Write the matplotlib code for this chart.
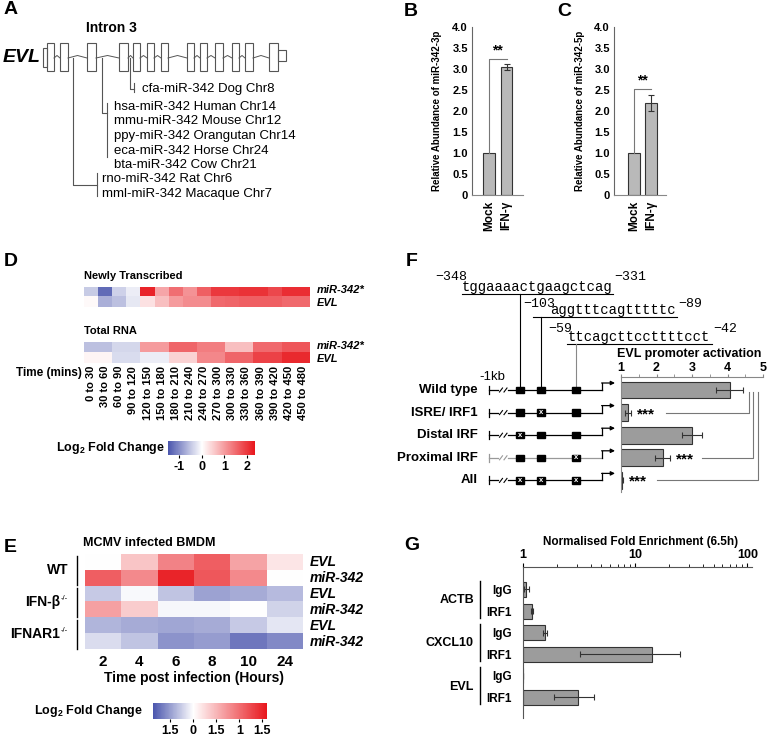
import numpy as np
import matplotlib
matplotlib.use("Agg")
import matplotlib.pyplot as plt
from matplotlib.colors import LinearSegmentedColormap, Normalize
from matplotlib.cm import ScalarMappable
from matplotlib.patches import Rectangle
from matplotlib.ticker import MultipleLocator, LogLocator, NullFormatter, FixedLocator

plt.rcParams['font.family'] = ['Liberation Sans', 'DejaVu Sans']
plt.rcParams['mathtext.fontset'] = 'custom'
plt.rcParams['mathtext.rm'] = 'Liberation Sans'
plt.rcParams['mathtext.bf'] = 'Liberation Sans:bold'

W, H = 767, 740

# ---------------- data ----------------
# A: EVL gene model (exon start/end, schematic units) and miR-342 orthologues
evl_exons = [(47, 54), (60, 68), (87, 96), (119, 128), (133, 140), (147, 154), (161, 168),
             (187, 194), (200, 207), (215, 223), (232, 239), (245, 253), (269, 278)]
cfa_label = ["cfa-miR-342 Dog Chr8"]
group1_labels = ["hsa-miR-342 Human Chr14", "mmu-miR-342 Mouse Chr12",
                 "ppy-miR-342 Orangutan Chr14", "eca-miR-342 Horse Chr24",
                 "bta-miR-342 Cow Chr21"]
group2_labels = ["rno-miR-342 Rat Chr6", "mml-miR-342 Macaque Chr7"]

# B / C: relative abundance
bc_groups = ["Mock", "IFN-γ"]
mir3p_vals = [1.0, 3.05]
mir3p_err = [0.0, 0.08]
mir5p_vals = [1.0, 2.18]
mir5p_err = [0.0, 0.19]

# D: time course heatmaps
d_times = ["0 to 30", "30 to 60", "60 to 90", "90 to 120", "120 to 150", "150 to 180",
           "180 to 210", "210 to 240", "240 to 270", "270 to 300", "300 to 330",
           "330 to 360", "360 to 390", "390 to 420", "420 to 450", "450 to 480"]
d_rows = ["miR-342*", "EVL"]
newly_mir = [-0.45, -1.3, -0.4, -0.15, 2.2, 0.9, 1.45, 1.1, 1.6, 2.0, 2.0, 2.05, 2.05, 1.85, 2.1, 2.1]
newly_evl = [0.05, -0.7, -0.55, -0.2, 0.3, 0.65, 1.0, 1.15, 1.15, 1.5, 1.55, 1.6, 1.6, 1.6, 1.5, 1.5]
total_mir = [-0.55, -0.55, -0.35, -0.35, 1.0, 1.0, 1.55, 1.55, 1.3, 1.3, 0.65, 0.65, 1.5, 1.5, 1.7, 1.7]
total_evl = [0.1, 0.1, -0.3, -0.3, -0.15, -0.15, 0.45, 0.45, 1.2, 1.2, 1.55, 1.55, 1.9, 1.9, 2.15, 2.15]

# E: MCMV infected BMDM
e_hours = ["2", "4", "6", "8", "10", "24"]
e_strains = ["WT", "IFN-β", "IFNAR1"]
e_genes = ["EVL", "miR-342", "EVL", "miR-342", "EVL", "miR-342"]
wt_evl = [0.0, 0.8, 1.7, 2.2, 1.25, 0.35]
wt_mir = [2.2, 1.6, 3.0, 2.3, 1.6, 0.0]
ifnb_evl = [-0.55, -0.05, -0.6, -0.95, -0.85, -0.7]
ifnb_mir = [1.3, 0.7, -0.08, -0.08, 0.0, -0.45]
ifnar_evl = [-0.75, -0.85, -0.9, -0.85, -0.55, -0.25]
ifnar_mir = [-0.35, -0.6, -1.1, -1.0, -1.4, -1.2]
e_cbar_ticks = [-1, 0, 1, 2, 3]
e_cbar_labels = ["1.5", "0", "1.5", "1", "1.5"]

# F: promoter constructs
f_constructs = ["Wild type", "ISRE/ IRF1", "Distal IRF", "Proximal IRF", "All"]
f_activation = [4.06, 1.2, 3.0, 2.17, 1.02]
f_err = [0.39, 0.08, 0.29, 0.21, 0.03]
f_mutated = [[], [1], [0], [2], [0, 1, 2]]
f_signif = ["", "***", "", "***", "***"]
f_seqs = [("-348", "tggaaaactgaagctcag", "-331"),
          ("-103", "aggtttcagtttttc", "-89"),
          ("-59", "ttcagcttccttttcct", "-42")]

# G: ChIP
g_genes = ["ACTB", "CXCL10", "EVL"]
g_abs = ["IgG", "IRF1", "IgG", "IRF1", "IgG", "IRF1"]
g_vals = [1.07, 1.2, 1.57, 14.2, 1.01, 3.1]
g_err = [0.05, 0.02, 0.05, 11.0, 0.0, 1.2]

# ---------------- figure ----------------
fig = plt.figure(figsize=(W / 100, H / 100), dpi=100)


def px_axes(x0, y0, x1, y1):
    return fig.add_axes([x0 / W, 1 - y1 / H, (x1 - x0) / W, (y1 - y0) / H])


def make_cmap(vmin, vmax):
    f = -vmin / (vmax - vmin)
    return LinearSegmentedColormap.from_list(
        "bw_r", [(0, "#4a55ad"), (f, "white"), (1, "#e8161c")])


def bold_ticks(labels):
    for t in labels:
        t.set_fontweight("bold")


# ---- B and C ----
def bar_panel(ax, vals, errs, xl, br_y):
    x = np.arange(len(vals))
    ax.bar(x, vals, width=0.68, color="#b9b9b9", edgecolor="#333333", linewidth=0.8)
    ax.errorbar(x[1:], vals[1:], yerr=errs[1:], fmt="none", ecolor="#333333",
                elinewidth=0.8, capsize=2.5, capthick=0.8)
    ax.set_xlim(*xl)
    ax.set_ylim(0, 4.0)
    ax.set_yticks(np.arange(0, 4.01, 0.5))
    ax.set_yticklabels(["0"] + ["%.1f" % v for v in np.arange(0.5, 4.01, 0.5)])
    ax.set_xticks(x)
    ax.set_xticklabels(bc_groups, rotation=90, fontsize=8.5, fontweight="bold")
    ax.tick_params(axis="y", labelsize=8, length=0, pad=3)
    ax.tick_params(axis="x", length=0, pad=4)
    bold_ticks(ax.get_yticklabels())
    for s in ["top", "right"]:
        ax.spines[s].set_visible(False)
    ax.spines["left"].set_color("#666666")
    ax.spines["bottom"].set_color("#888888")
    ax.plot([0, 0, 1], [vals[0], br_y, br_y], color="#777777", lw=0.8)
    ax.text(0.5, br_y + 0.03, "**", ha="center", va="bottom", fontsize=10, fontweight="bold")


axB = px_axes(472, 27, 523, 195)
bar_panel(axB, mir3p_vals, mir3p_err, (-0.97, 1.94), 3.24)
axC = px_axes(614, 27, 666, 195)
bar_panel(axC, mir5p_vals, mir5p_err, (-1.18, 1.88), 2.52)

# ---- D ----
d_vmin, d_vmax = -1.5, 2.35
d_cmap = make_cmap(d_vmin, d_vmax)
d_norm = Normalize(d_vmin, d_vmax)
axDn = px_axes(84, 287, 310, 307)
axDn.imshow(np.array([newly_mir, newly_evl]), cmap=d_cmap, norm=d_norm, aspect="auto",
            interpolation="nearest")
axDn.axis("off")
axDt = px_axes(84, 342, 310, 363)
axDt.imshow(np.array([total_mir, total_evl]), cmap=d_cmap, norm=d_norm, aspect="auto",
            interpolation="nearest")
for s in axDt.spines.values():
    s.set_visible(False)
axDt.set_yticks([])
axDt.set_xticks(np.arange(len(d_times)))
axDt.set_xticklabels(d_times, rotation=90, fontsize=8, fontweight="bold")
axDt.tick_params(axis="x", length=0, pad=2)

caxD = px_axes(168, 441, 255, 455)
cbD = fig.colorbar(ScalarMappable(norm=d_norm, cmap=d_cmap), cax=caxD, orientation="horizontal")
cbD.outline.set_visible(False)
cbD.set_ticks([-1, 0, 1, 2])
cbD.set_ticklabels(["-1", "0", "1", "2"])
caxD.tick_params(length=2, labelsize=9, pad=2)
bold_ticks(caxD.get_xticklabels())

# ---- E ----
e_vmin, e_vmax = -1.75, 3.2
e_cmap = make_cmap(e_vmin, e_vmax)
e_norm = Normalize(e_vmin, e_vmax)
axE = px_axes(85, 554, 303, 649)
axE.imshow(np.array([wt_evl, wt_mir, ifnb_evl, ifnb_mir, ifnar_evl, ifnar_mir]),
           cmap=e_cmap, norm=e_norm, aspect="auto", interpolation="nearest")
for s in axE.spines.values():
    s.set_visible(False)
axE.set_yticks([])
axE.set_xticks(np.arange(len(e_hours)))
axE.set_xticklabels(e_hours, fontsize=11, fontweight="bold")
axE.tick_params(axis="x", length=0, pad=4)
axE.set_xlabel("Time post infection (Hours)", fontsize=10, fontweight="bold", labelpad=2)

caxE = px_axes(153, 703, 267, 719)
cbE = fig.colorbar(ScalarMappable(norm=e_norm, cmap=e_cmap), cax=caxE, orientation="horizontal")
cbE.outline.set_visible(False)
cbE.set_ticks(e_cbar_ticks)
cbE.set_ticklabels(e_cbar_labels)
caxE.tick_params(length=2, labelsize=9, pad=2)
bold_ticks(caxE.get_xticklabels())

# ---- F bars ----
axF = px_axes(621, 377, 763, 492)
fy = np.arange(len(f_constructs))
axF.barh(fy, f_activation, height=0.75, color="#9c9c9c", edgecolor="#333333", linewidth=0.8)
axF.errorbar(f_activation, fy, xerr=f_err, fmt="none", ecolor="#333333", elinewidth=0.8,
             capsize=2.5, capthick=0.8)
axF.set_xlim(1, 5)
axF.set_ylim(4.53, -0.58)
axF.xaxis.tick_top()
axF.set_xticks([1, 2, 3, 4, 5])
axF.xaxis.set_minor_locator(MultipleLocator(0.5))
axF.tick_params(axis="x", which="both", labelsize=9, length=2, color="#888888", pad=0.5)
bold_ticks(axF.get_xticklabels())
axF.set_yticks([])
for s in ["bottom", "right"]:
    axF.spines[s].set_visible(False)
axF.spines["top"].set_color("#888888")
axF.spines["left"].set_color("#888888")
br_x = {1: (2.28, 4.6), 3: (3.28, 4.71), 4: (2.0, 4.86)}
for i, s in enumerate(f_signif):
    if s:
        axF.text(f_activation[i] + f_err[i] + 0.17, i + 0.08, s, ha="left", va="center",
                 fontsize=11, fontweight="bold")
        x0, x1 = br_x[i]
        axF.plot([x0, x1, x1], [i, i, 0.1], color="#777777", lw=0.8, clip_on=False)

# ---- G ----
axG = px_axes(523, 567, 752, 718)
gy = np.arange(len(g_vals))
axG.set_xscale("log")
axG.barh(gy, np.array(g_vals) - 1, left=1, height=0.7, color="#9c9c9c",
         edgecolor="#333333", linewidth=0.8)
axG.errorbar(g_vals, gy, xerr=g_err, fmt="none", ecolor="#333333", elinewidth=0.8,
             capsize=2.5, capthick=0.8)
axG.set_xlim(1, 110)
axG.set_ylim(5.95, -1.04)
axG.xaxis.tick_top()
axG.xaxis.set_major_locator(FixedLocator([1, 10, 100]))
axG.set_xticklabels(["1", "10", "100"])
axG.xaxis.set_minor_locator(LogLocator(base=10, subs=np.arange(2, 10)))
axG.xaxis.set_minor_formatter(NullFormatter())
axG.tick_params(axis="x", which="major", labelsize=9, length=3, pad=1)
axG.tick_params(axis="x", which="minor", length=2)
bold_ticks(axG.get_xticklabels())
axG.set_yticks(gy)
axG.set_yticklabels(g_abs, fontsize=8.5, fontweight="bold")
axG.tick_params(axis="y", length=0, pad=8)
for s in ["bottom", "right"]:
    axG.spines[s].set_visible(False)
axG.spines["top"].set_color("#555555")
axG.spines["left"].set_color("#555555")

# ---------------- overlay for schematics and labels ----------------
ov = fig.add_axes([0, 0, 1, 1])
ov.set_xlim(0, W)
ov.set_ylim(H, 0)
ov.axis("off")

for lab, x, y in [("A", 4, 10), ("B", 404, 12), ("C", 557, 12), ("D", 4, 262),
                  ("F", 406, 262), ("E", 4, 547), ("G", 404, 545)]:
    ov.text(x, y, lab, fontsize=14, fontweight="bold", va="center", ha="left")

# A gene model
ov.text(3, 57, "EVL", fontsize=14, fontweight="bold", style="italic", va="center")
ov.text(111, 28, "Intron 3", fontsize=10, fontweight="bold", ha="center", va="center")
gc = "#555555"
ov.add_patch(Rectangle((43, 48), 4, 19, fill=False, ec=gc, lw=0.8))
ov.add_patch(Rectangle((278, 50), 8, 11, fill=False, ec=gc, lw=0.8))
for a, b in evl_exons:
    ov.add_patch(Rectangle((a, 43), b - a, 28, fill=False, ec=gc, lw=0.8))
for (a0, a1), (b0, b1) in zip(evl_exons[:-1], evl_exons[1:]):
    m = (a1 + b0) / 2
    ov.plot([a1, m, b0], [58, 55.5, 58], color=gc, lw=0.7)

lc = "#555555"
ov.plot([130, 130, 134], [58, 89, 89], color=lc, lw=0.8)
ov.plot([134, 134], [83, 92], color=lc, lw=0.8)
ov.text(142, 89, cfa_label[0], fontsize=9.5, va="center")
ov.plot([102, 102, 107], [58, 113, 113], color=lc, lw=0.8)
ov.plot([107, 107], [103, 157], color=lc, lw=0.8)
for k, s in enumerate(group1_labels):
    ov.text(114, 107 + 14.5 * k, s, fontsize=9.5, va="center")
ov.plot([73, 73, 97], [58, 185, 185], color=lc, lw=0.8)
ov.plot([97, 97], [173, 196], color=lc, lw=0.8)
for k, s in enumerate(group2_labels):
    ov.text(102, 179 + 14.5 * k, s, fontsize=9.5, va="center")

# B/C y labels
ov.text(437, 111, "Relative Abundance of miR-342-3p", rotation=90, fontsize=7,
        fontweight="bold", ha="center", va="center")
ov.text(580, 111, "Relative Abundance of miR-342-5p", rotation=90, fontsize=7,
        fontweight="bold", ha="center", va="center")

# D labels
ov.text(84, 276, "Newly Transcribed", fontsize=8, fontweight="bold", va="center")
ov.text(84, 331, "Total RNA", fontsize=8, fontweight="bold", va="center")
for k, r in enumerate(d_rows):
    ov.text(317, 290 + 13 * k, r, fontsize=8, fontweight="bold", style="italic", va="center")
    ov.text(317, 346 + 13 * k, r, fontsize=8, fontweight="bold", style="italic", va="center")
ov.text(82, 373, "Time (mins)", fontsize=8.5, fontweight="bold", ha="right", va="center")
ov.text(165, 448, r"Log$\mathbf{_2}$ Fold Change", fontsize=9, fontweight="bold",
        ha="right", va="center")

# E labels
ov.text(83, 543, "MCMV infected BMDM", fontsize=9, fontweight="bold", va="center")
for k, s in enumerate(e_strains):
    yc = 570 + 32 * k
    if k == 0:
        ov.text(68, yc, s, fontsize=10, fontweight="bold", ha="right", va="center")
    else:
        ov.text(60, yc, s, fontsize=10, fontweight="bold", ha="right", va="center")
        ov.text(60.5, yc - 4, "-/-", fontsize=5.5, ha="left", va="center")
    ov.plot([77, 77], [yc - 14.5, yc + 14.5], color="black", lw=1)
for k, g in enumerate(e_genes):
    ov.text(310, 562 + 15.9 * k, g, fontsize=10, fontweight="bold", style="italic", va="center")
ov.text(143, 711, r"Log$\mathbf{_2}$ Fold Change", fontsize=9, fontweight="bold",
        ha="right", va="center")

# F schematic
mono = "Liberation Mono"
site_x = [520, 541, 576]
# (number x, seq text x, underline x0, underline x1, number y, seq y)
seq_pos = [(435, 462, 462, 613, 277, 287), (523, 550, 533, 677, 304, 310),
           (548, 568, 567, 712, 329, 337)]
for (lo, seq, hi), (nx, tx, ux0, ux1, ny, sy) in zip(f_seqs, seq_pos):
    ov.text(nx, ny, lo.replace("-", "\u2212"), family=mono, fontsize=9.5, va="center")
    ov.text(tx, sy, seq, family=mono, fontsize=10, va="center")
    ov.text(ux1 + 1, ny, hi.replace("-", "\u2212"), family=mono, fontsize=9.5, va="center")
    ov.plot([ux0, ux1], [sy + 7, sy + 7], color="black", lw=0.8)
ov.plot([520, 520], [294, 390], color="black", lw=0.8)
ov.plot([541, 541], [317, 390], color="black", lw=0.8)
ov.plot([576, 576], [344, 390], color="#888888", lw=0.8)
ov.text(492, 377, "-1kb", fontsize=9.5, ha="center", va="center")
for i, (name, mut) in enumerate(zip(f_constructs, f_mutated)):
    y = 390 + 22.6 * i
    col = "#999999" if name == "Proximal IRF" else "black"
    ov.text(478, y, name, ha="right", va="center", fontsize=9.5, fontweight="bold")
    ov.plot([489, 489], [y - 4, y + 4], color=col, lw=0.9)
    ov.plot([489, 498], [y, y], color=col, lw=0.9)
    for sx in (501, 505.5):
        ov.plot([sx - 1.5, sx + 1.5], [y + 2, y - 2], color=col, lw=0.8)
    ov.plot([508, 602], [y, y], color=col, lw=0.9)
    ov.plot([602, 602], [y, y - 7], color="black", lw=0.9)
    ov.annotate("", xy=(615, y - 7), xytext=(601.6, y - 7),
                arrowprops=dict(arrowstyle="-|>", lw=0.9, color="black", mutation_scale=6,
                                shrinkA=0, shrinkB=0))
    for k, sx in enumerate(site_x):
        ov.add_patch(Rectangle((sx - 4, y - 3.2), 8, 6.4, color="black", zorder=3))
        if k in mut:
            ov.text(sx, y, "x", color="white", fontsize=5.5, fontweight="bold",
                    ha="center", va="center", zorder=4)
ov.text(689, 354, "EVL promoter activation", fontsize=9, fontweight="bold",
        ha="center", va="center")

# G labels
ov.text(641, 542, "Normalised Fold Enrichment (6.5h)", fontsize=8.5, fontweight="bold",
        ha="center", va="center")
for k, g in enumerate(g_genes):
    y0 = 589.5 + 43.2 * k
    ov.text(474, y0 + 10.8, g, fontsize=9, fontweight="bold", ha="right", va="center")
    ov.plot([480, 480], [y0 - 9, y0 + 28], color="black", lw=1)

fig.savefig("out.png", dpi=100)
